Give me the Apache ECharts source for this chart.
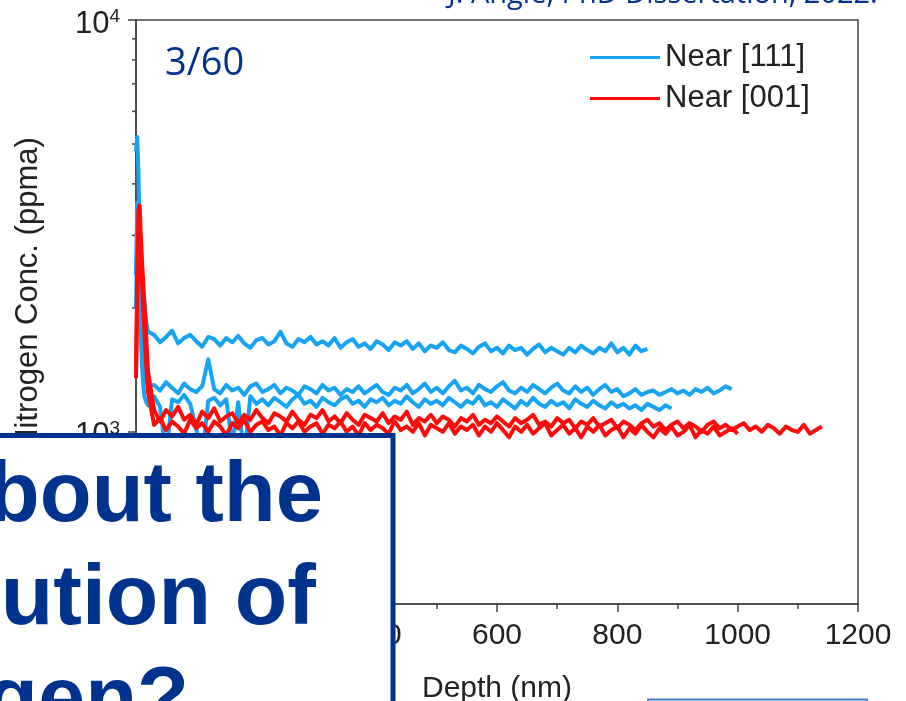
<!DOCTYPE html>
<html><head><meta charset="utf-8">
<script src="https://cdn.jsdelivr.net/npm/echarts@6/dist/echarts.min.js"></script>
<style>html,body{margin:0;padding:0;background:#fff;overflow:hidden}#c{width:906px;height:701px}</style>
</head><body><div id="c"></div><script>
// Depth sampling (nm)
const depthNm = [0,2,4,6,8,10,12,14,17,20,
30,40,50,60,70,80,90,100,110,120,130,140,150,160,170,180,190,200,210,220,
230,240,250,260,270,280,290,300,310,320,330,340,350,360,370,380,390,400,410,420,
430,440,450,460,470,480,490,500,510,520,530,540,550,560,570,580,590,600,610,620,
630,640,650,660,670,680,690,700,710,720,730,740,750,760,770,780,790,800,810,820,
830,840,850,860,870,880,890,900,910,920,930,940,950,960,970,980,990,1000,1010,1020,
1030,1040,1050,1060,1070,1080,1090,1100,1110,1120,1130,1140];

// Nitrogen concentration (ppma), Near [111] profiles
const near111A = [4800,5200,4300,3000,2300,2000,2100,2050,1850,1750,
1720,1650,1700,1760,1640,1690,1720,1660,1610,1700,
1680,1620,1690,1650,1710,1640,1600,1670,1690,1630,
1660,1750,1640,1610,1680,1650,1700,1630,1660,1620,
1690,1600,1650,1680,1610,1640,1590,1660,1630,1580,
1650,1620,1660,1590,1640,1570,1620,1600,1650,1580,
1560,1620,1590,1550,1610,1640,1570,1600,1550,1620,
1580,1600,1540,1590,1630,1560,1600,1570,1540,1600,
1560,1620,1580,1550,1600,1570,1640,1560,1600,1540,
1620,1570,1590];
const near111B = [2400,3600,3000,2300,1900,1650,1500,1420,1330,1290,
1300,1260,1320,1280,1240,1310,1270,1250,1290,1500,
1270,1240,1300,1260,1280,1230,1290,1310,1250,1270,
1300,1240,1280,1260,1230,1290,1270,1240,1300,1260,
1280,1230,1270,1250,1290,1240,1270,1300,1250,1230,
1280,1260,1300,1240,1270,1310,1250,1280,1240,1290,
1330,1260,1280,1240,1300,1270,1250,1290,1320,1260,
1240,1280,1250,1300,1270,1240,1280,1310,1260,1240,
1290,1250,1280,1230,1270,1300,1250,1270,1220,1240,
1270,1230,1250,1260,1230,1250,1270,1240,1260,1230,
1270,1250,1280,1240,1260,1290,1270];
const near111C = [2000,3000,2500,2000,1700,1450,1300,1220,1180,1160,
1220,1150,880,1200,1180,1230,1170,1020,860,1190,
1210,1160,1200,930,1180,870,1220,1170,1200,1160,
1210,1180,1150,1200,1230,1170,1190,1150,1210,1180,
1160,1200,1220,1170,1190,1150,1200,1180,1210,1160,
1190,1170,1220,1180,1150,1200,1170,1190,1160,1210,
1180,1150,1190,1170,1220,1160,1180,1150,1200,1170,
1140,1190,1160,1210,1170,1150,1190,1160,1180,1140,
1200,1170,1150,1190,1160,1140,1180,1150,1170,1140,
1160,1130,1170,1150,1130,1160,1140];
// Near [001] profiles
const near001A = [1400,2300,3450,3550,3000,2600,2300,2050,1700,1400,
1130,1060,1130,1090,1150,1070,1100,1040,1120,1080,
1140,1060,1090,1110,1050,1100,1070,1130,1080,1050,
1110,1090,1060,1120,1070,1040,1100,1080,1130,1060,
1090,1050,1110,1070,1040,1100,1080,1060,1110,1050,
1090,1070,1120,1040,1080,1060,1100,1050,1090,1070,
1030,1080,1060,1100,1040,1070,1050,1090,1060,1030,
1080,1050,1070,1100,1040,1060,1030,1080,1050,1070,
1020,1060,1040,1080,1030,1050,1070,1020,1060,1040,
1010,1050,1070,1030,1050,1010,1040,1060,1020,1050,
1030,1000,1040,1060,1020,1040,1010,1030,1050,1010,
1030,1000,1040,1020,990,1030,1010,1000,1040,990,
1010,1030];
const near001B = [1350,2100,3000,3200,2700,2300,2000,1750,1450,1250,
1040,1080,1010,1060,1030,990,1070,1020,1050,1000,
1060,1030,980,1050,1020,1070,1000,1040,1060,1010,
1030,980,1050,1020,1060,1000,1030,1050,990,1040,
1020,1060,1000,1030,980,1050,1010,1040,1020,990,
1060,1010,1030,1000,1050,980,1040,1020,1000,1050,
990,1030,1010,1040,980,1030,1000,1050,1010,970,
1030,1000,1040,990,1020,1050,980,1010,1040,990,
1020,970,1030,1000,1040,980,1010,1030,970,1020,
990,1040,1000,970,1020,990,1030,980,1000,1040,
970,1010,990,1030,980,1000,1020,990];

const xTickValues = [0,200,400,600,800,1000,1200];
const yMinorTicks = [2000,3000,4000,5000,6000,7000,8000,9000];
const legendNames = ['Near [111]','Near [001]'];

const BLUE = '#17a3f3', RED = '#ff0a0a', NAVY = '#00338d', AX = '#444';
const FONT = '"Liberation Sans", Arial, sans-serif';

const pair = c => c.map((v,i)=>[depthNm[i], v]);
function lineSeries(name,color,conc){
  return {type:'line',name,data:pair(conc),symbol:'none',showSymbol:false,
    lineStyle:{color,width:4,join:'round'},itemStyle:{color},animation:false};
}

const chart = echarts.init(document.getElementById('c'), null, {renderer:'canvas'});
chart.setOption({
  animation:false,
  backgroundColor:'#fff',
  grid:{left:136, right:48, top:20, bottom:97, outerBoundsMode:'none', containLabel:false,
    show:true, borderColor:AX, borderWidth:1.5, backgroundColor:'transparent'},
  legend:{data:legendNames, orient:'vertical', left:585, top:37, icon:'rect', itemWidth:70, itemHeight:3, itemGap:10,
    textStyle:{fontSize:31, lineHeight:30, color:'#222', fontFamily:FONT, padding:[0,0,0,0]}},
  xAxis:{type:'value', min:xTickValues[0], max:xTickValues[xTickValues.length-1], interval:200,
    name:'Depth (nm)', nameLocation:'middle', nameGap:70,
    nameTextStyle:{fontSize:30, color:'#222', fontFamily:FONT},
    axisLine:{lineStyle:{color:AX, width:1.5}},
    axisTick:{show:true, inside:false, length:8, lineStyle:{color:AX, width:1.5}},
    minorTick:{show:true, splitNumber:2, length:5, lineStyle:{color:AX, width:1.5}},
    splitLine:{show:false},
    axisLabel:{fontSize:30, color:'#222', fontFamily:FONT, margin:17, formatter:v=>String(v)}},
  yAxis:{type:'log', logBase:10, min:382, max:10000,
    name:'Nitrogen Conc. (ppma)', nameLocation:'middle', nameGap:92,
    nameTextStyle:{fontSize:31, color:'#222', fontFamily:FONT, padding:[0,0,0,36]},
    axisLine:{lineStyle:{color:AX, width:1.5}},
    axisTick:{show:true, inside:false, length:8, lineStyle:{color:AX, width:1.5}},
    splitLine:{show:false},
    axisLabel:{margin:16, color:'#222', fontFamily:FONT, padding:[8,0,0,0],
      formatter:function(v){ const l=Math.log10(v), e=Math.round(l); if(Math.abs(l-e)>1e-6) return ''; return '{b|10}{s|'+e+'}'; },
      rich:{b:{fontSize:31, color:'#222', fontFamily:FONT}, s:{fontSize:19, color:'#222', fontFamily:FONT, padding:[0,0,14,0]}}}},
  series:[
    lineSeries(legendNames[0], BLUE, near111A),
    lineSeries(legendNames[0], BLUE, near111B),
    lineSeries(legendNames[0], BLUE, near111C),
    lineSeries(legendNames[1], RED, near001A),
    lineSeries(legendNames[1], RED, near001B),
    {type:'custom', name:'minor', silent:true, clip:false, data:yMinorTicks.map(v=>[0,v]),
      renderItem:function(params, api){ const p=api.coord([api.value(0), api.value(1)]);
        return {type:'line', shape:{x1:p[0]-4, y1:p[1], x2:p[0], y2:p[1]}, style:{stroke:AX, lineWidth:1.5}}; }}
  ],
  graphic:[
    {type:'text', z:50, style:{text:'3/60', x:165, y:64, align:'left', verticalAlign:'middle', font:'38px "Open Sans", sans-serif', fill:NAVY}},
    {type:'text', z:50, style:{text:'J. Angle, PhD Dissertation, 2022.', x:448, y:-5, align:'left', verticalAlign:'middle', font:'29px "Open Sans", sans-serif', fill:NAVY}},
    {type:'rect', z:100, shape:{x:-20, y:435.5, width:413, height:400}, style:{fill:'#fff', stroke:NAVY, lineWidth:5}},
    {type:'text', z:101, style:{text:'What do we know about the', x:323, y:498, align:'right', verticalAlign:'middle', font:'bold 85px "Liberation Sans", Arial, sans-serif', fill:NAVY}},
    {type:'text', z:101, style:{text:'distribution of', x:316, y:600, align:'right', verticalAlign:'middle', font:'bold 86px "Liberation Sans", Arial, sans-serif', fill:NAVY}},
    {type:'text', z:101, style:{text:'nitrogen?', x:189, y:703, align:'right', verticalAlign:'middle', font:'bold 85px "Liberation Sans", Arial, sans-serif', fill:NAVY}},
    {type:'rect', z:100, shape:{x:648, y:699.5, width:219, height:50}, style:{fill:'#fff', stroke:'#4a7ec7', lineWidth:2}}
  ]
});
</script></body></html>
